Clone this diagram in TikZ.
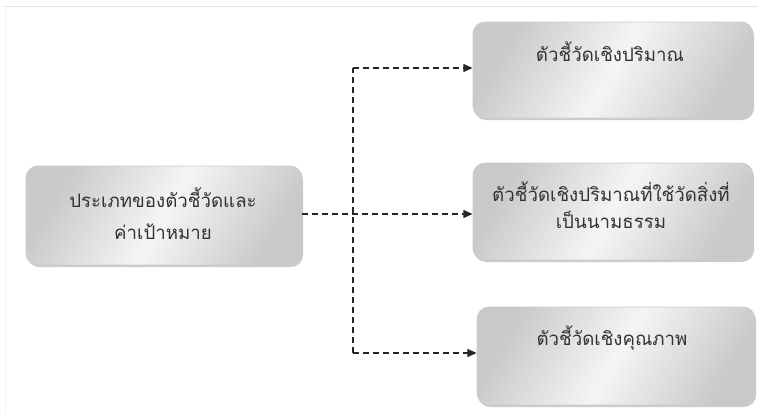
\documentclass[tikz,border=0pt]{standalone}
\usepackage{fontspec}
\newfontfamily\thaifont[Script=Thai]{Loma}
\usetikzlibrary{arrows.meta,shadows}
\definecolor{txt}{HTML}{333333}
\tikzset{
  box/.style={draw=gray!40, line width=0.6pt, rounded corners=9pt,
    shading=axis, left color=gray!42, right color=gray!42, middle color=gray!8,
    shading angle=60,
    drop shadow={shadow xshift=0.8pt, shadow yshift=-1.5pt, opacity=0.5, fill=gray!80}},
  lbl/.style={anchor=center, font=\thaifont\fontsize{14}{25}\selectfont, text=txt, align=center, inner sep=0pt},
  conn/.style={line width=1.1pt, dash pattern=on 4.5pt off 3pt, draw=black!85},
  tip/.style={-{Triangle[length=7pt,width=6pt]}}
}
\begin{document}
\begin{tikzpicture}[x=0.75pt,y=-0.75pt]
\useasboundingbox (0,0) rectangle (758,414);
\fill[white] (0,0) rectangle (758,414);
\draw[gray!20, line width=0.8pt] (4,6.5) -- (758,6.5);
\draw[gray!8, line width=0.6pt] (5,6.5) -- (5,414);
% boxes
\node[box, minimum width=276*0.75pt, minimum height=99*0.75pt] (src) at (164,215.5) {};
\node[box, minimum width=280*0.75pt, minimum height=96*0.75pt] (b1) at (613,70) {};
\node[box, minimum width=280*0.75pt, minimum height=97*0.75pt] (b2) at (613,211.5) {};
\node[box, minimum width=278*0.75pt, minimum height=98*0.75pt] (b3) at (616,356) {};
% texts
\node[lbl] (t0a) at (163,198) {ประเภทของตัวชี้วัดและ};
\node[lbl] (t0b) at (163,232) {ค่าเป้าหมาย};
\node[lbl] (t1) at (610,52) {ตัวชี้วัดเชิงปริมาณ};
\node[lbl] (t2a) at (611,192) {ตัวชี้วัดเชิงปริมาณที่ใช้วัดสิ่งที่};
\node[lbl] (t2b) at (611,220) {เป็นนามธรรม};
\node[lbl] (t3) at (612,338) {ตัวชี้วัดเชิงคุณภาพ};
% connectors
\coordinate (j) at (353,214);
\coordinate (jt) at (353,68);
\coordinate (jb) at (353,353);
\draw[conn, tip] (src.east |- j) -- (b2.west |- j);
\draw[conn] (jb) -- (jt);
\draw[conn, tip] (jt) -- (b1.west |- jt);
\draw[conn, tip] (jb) -- (b3.west |- jb);
\end{tikzpicture}
\end{document}
